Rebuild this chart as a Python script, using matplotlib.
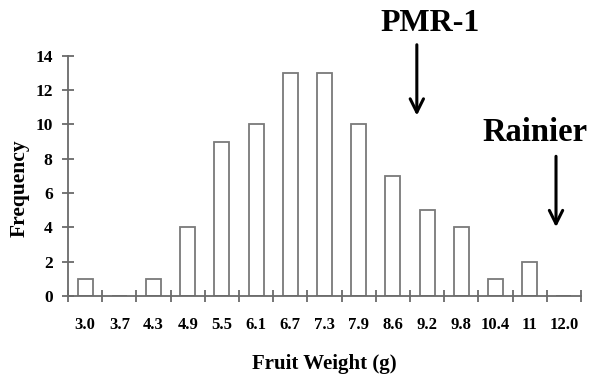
import numpy as np
import matplotlib
matplotlib.use("Agg")
import matplotlib.pyplot as plt

# fruit weight bins (g) and counts
bins = ['3.0', '3.7', '4.3', '4.9', '5.5', '6.1', '6.7', '7.3', '7.9',
        '8.6', '9.2', '9.8', '10.4', '11', '12.0']
freq = [1, 0, 1, 4, 9, 10, 13, 13, 10, 7, 5, 4, 1, 2, 0]

plt.rcParams['font.family'] = ['Liberation Serif', 'DejaVu Serif']
plt.rcParams['font.weight'] = 'bold'

fig = plt.figure(figsize=(5.9, 3.81), dpi=100)
ax = fig.add_axes([0.1153, 0.2231, 0.8694, 0.6307])

pos = np.arange(len(bins))
ax.bar(pos, freq, width=0.44, color='white', edgecolor='#7a7a7a', linewidth=1.3)

ax.set_xlim(-0.5, len(bins) - 0.5)
ax.set_ylim(0, 14)
ax.set_yticks(np.arange(0, 15, 2))
ax.set_xticks(np.arange(-0.5, len(bins), 1.0))
ax.set_xticklabels([])
ax.set_xticks(pos, minor=True)
ax.set_xticklabels(bins, minor=True)

for s in ['top', 'right']:
    ax.spines[s].set_visible(False)
for s in ['left', 'bottom']:
    ax.spines[s].set_color('#6a6a6a')
    ax.spines[s].set_linewidth(1.3)

ax.tick_params(axis='both', which='major', direction='inout', length=8,
               width=1.3, color='#6a6a6a', labelsize=12.5)
ax.tick_params(axis='y', pad=7)
ax.tick_params(axis='x', which='minor', length=0, pad=15, labelsize=12)

ax.set_ylabel('Frequency', fontsize=15.5, fontweight='bold', va='center')
ax.yaxis.set_label_coords(-0.094, 0.45)
ax.set_xlabel('Fruit Weight (g)', fontsize=15, fontweight='bold', va='center')
ax.xaxis.set_label_coords(0.5, -0.285)

arr = dict(arrowstyle='->', color='black', lw=2.2, mutation_scale=24)
ax.annotate('', xy=(9.7, 10.35), xytext=(9.7, 14.8), arrowprops=arr,
            annotation_clip=False)
ax.text(10.09, 15.9, 'PMR-1', ha='center', va='center', fontsize=23,
        fontweight='bold', clip_on=False)
ax.annotate('', xy=(13.77, 3.85), xytext=(13.77, 8.3), arrowprops=arr,
            annotation_clip=False)
ax.text(13.16, 9.55, 'Rainier', ha='center', va='center', fontsize=23.5,
        fontweight='bold', clip_on=False)

fig.savefig('out.png', dpi=100)
